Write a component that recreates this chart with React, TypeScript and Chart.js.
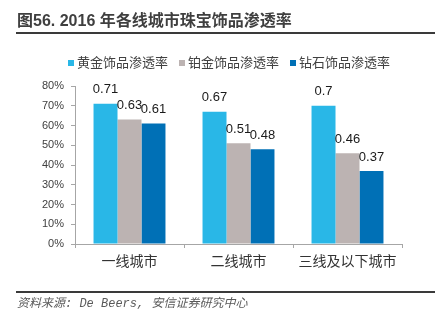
import React, { useEffect, useRef } from "react";
import { Chart, registerables } from "chart.js";

Chart.register(...registerables);

const categories = ["一线城市", "二线城市", "三线及以下城市"];
const seriesNames = ["黄金饰品渗透率", "铂金饰品渗透率", "钻石饰品渗透率"];
const goldValues = [0.71, 0.67, 0.7];
const platinumValues = [0.63, 0.51, 0.46];
const diamondValues = [0.61, 0.48, 0.37];
const seriesColors = ["#29B7E7", "#BCB3B2", "#0070B6"];
const titleText = "图56. 2016 年各线城市珠宝饰品渗透率";
const sourceText = "资料来源: De Beers, 安信证券研究中心";

const SANS = '"Liberation Sans", Arial, "Noto Sans CJK SC", sans-serif';

const decorPlugin = {
  id: "decor",
  afterDraw(chart: any) {
    const ctx = chart.ctx as CanvasRenderingContext2D;
    ctx.save();
    // Title
    ctx.fillStyle = "#3f3f3f";
    ctx.font = `bold 16px ${SANS}`;
    ctx.textAlign = "left";
    ctx.textBaseline = "middle";
    ctx.fillText(titleText, 17, 22);
    ctx.fillStyle = "#3a3a3a";
    ctx.fillRect(16, 32, 419, 2);

    // Legend
    ctx.font = `13px ${SANS}`;
    let x = 68;
    chart.data.datasets.forEach((ds: any) => {
      ctx.fillStyle = ds.backgroundColor;
      ctx.fillRect(x, 60, 6, 6);
      x += 9;
      ctx.fillStyle = "#404040";
      ctx.textBaseline = "middle";
      ctx.fillText(ds.label, x, 63);
      x += ctx.measureText(ds.label).width + 11;
    });

    // Data labels
    ctx.font = `13px ${SANS}`;
    ctx.fillStyle = "#1a1a1a";
    ctx.textAlign = "center";
    ctx.textBaseline = "middle";
    chart.data.datasets.forEach((ds: any, di: number) => {
      const meta = chart.getDatasetMeta(di);
      meta.data.forEach((bar: any, i: number) => {
        ctx.fillText(String(ds.data[i]), bar.x, bar.y - 14);
      });
    });

    // Bottom line and source
    ctx.fillStyle = "#3a3a3a";
    ctx.fillRect(16, 291, 419, 2);
    ctx.font = `italic 12px "Liberation Mono", "Noto Sans CJK SC", monospace`;
    ctx.fillStyle = "#595959";
    ctx.textAlign = "left";
    ctx.textBaseline = "middle";
    ctx.fillText(sourceText, 17, 304);
    ctx.restore();
  },
};

export default function App() {
  const canvasRef = useRef<HTMLCanvasElement>(null);

  useEffect(() => {
    document.body.style.margin = "0";
    const canvas = canvasRef.current;
    if (!canvas) return;
    const chart = new Chart(canvas, {
      type: "bar",
      data: {
        labels: categories,
        datasets: [
          { label: seriesNames[0], data: goldValues, backgroundColor: seriesColors[0] },
          { label: seriesNames[1], data: platinumValues, backgroundColor: seriesColors[1] },
          { label: seriesNames[2], data: diamondValues, backgroundColor: seriesColors[2] },
        ],
      },
      options: {
        responsive: false,
        animation: false,
        devicePixelRatio: 1,
        layout: { padding: { top: 86, left: 0, right: 35, bottom: 52 } },
        datasets: {
          bar: { categoryPercentage: 0.66, barPercentage: 1, borderWidth: 0 },
        },
        plugins: {
          legend: { display: false },
          title: { display: false },
          tooltip: { enabled: false },
        },
        scales: {
          x: {
            grid: {
              display: true,
              drawOnChartArea: false,
              drawTicks: true,
              tickLength: 4,
              color: "#a6a6a6",
              offset: true,
            },
            border: { display: true, color: "#a6a6a6", width: 1 },
            ticks: {
              color: "#333333",
              font: { size: 14, family: SANS },
              padding: 6,
              maxRotation: 0,
            },
            afterFit: (s: any) => {
              s.height = 30;
            },
          },
          y: {
            min: 0,
            max: 0.8,
            grid: {
              display: true,
              drawOnChartArea: false,
              drawTicks: true,
              tickLength: 4,
              color: "#a6a6a6",
            },
            border: { display: true, color: "#a6a6a6", width: 1 },
            ticks: {
              stepSize: 0.1,
              color: "#404040",
              font: { size: 11, family: SANS },
              padding: 7,
              callback: (v: any) => `${Math.round(Number(v) * 100)}%`,
            },
            afterFit: (s: any) => {
              s.width = 75;
            },
          },
        },
      },
      plugins: [decorPlugin],
    });
    return () => chart.destroy();
  }, []);

  return (
    <div style={{ width: 437, height: 326, background: "#fff" }}>
      <canvas ref={canvasRef} width={437} height={326} style={{ display: "block" }} />
    </div>
  );
}
